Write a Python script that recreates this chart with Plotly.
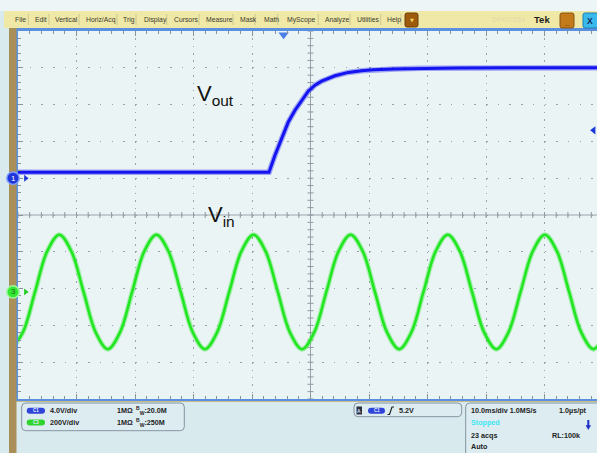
import plotly.graph_objects as go

# ---------------- data ----------------
# Channel 1 (Vout): time in ms (0 = screen centre), volts
vout_t = [-50.0, -7.09, -6.07, -4.92, -3.79, -2.65, -1.50, -0.38, 0.77, 1.91,
          4.19, 6.46, 8.75, 10.74, 14.4, 18.8, 25.0, 35.0, 49.0]
vout_v = [0.66, 0.66, 2.49, 4.31, 6.11, 7.39, 8.48, 9.46, 10.11, 10.55,
          11.13, 11.50, 11.67, 11.78, 11.88, 11.95, 11.98, 12.0, 12.0]

# Channel 3 (Vin): time in ms, volts (60 Hz mains, read at 1/8-period steps)
vin_t = [-51.24, -49.17, -47.09, -45.02, -42.94, -40.87, -38.79, -36.72,
         -34.64, -32.57, -30.49, -28.42, -26.34, -24.27, -22.19, -20.12,
         -18.04, -15.97, -13.89, -11.82, -9.74, -7.67, -5.59, -3.52,
         -1.44, 0.64, 2.71, 4.79, 6.86, 8.94, 11.01, 13.09,
         15.16, 17.24, 19.31, 21.39, 23.46, 25.54, 27.61, 29.69,
         31.76, 33.84, 35.91, 37.99, 40.06, 42.14, 44.21, 46.29,
         48.36, 50.44]
vin_v = [-311, -220, 0, 220, 311, 220, 0, -220,
         -311, -220, 0, 220, 311, 220, 0, -220,
         -311, -220, 0, 220, 311, 220, 0, -220,
         -311, -220, 0, 220, 311, 220, 0, -220,
         -311, -220, 0, 220, 311, 220, 0, -220,
         -311, -220, 0, 220, 311, 220, 0, -220,
         -311, -220]

menu_labels = ["File", "Edit", "Vertical", "Horiz/Acq", "Trig", "Display", "Cursors",
               "Measure", "Mask", "Math", "MyScope", "Analyze", "Utilities", "Help"]

ch_names = ["C1", "C3"]
ch_scales = ["4.0V/div", "200V/div"]
ch_imped = ["1MΩ", "1MΩ"]
ch_bw = ["20.0M", "250M"]

trig_level_v = 5.2
trig_label = "5.2V"
trig_pos_ms = -4.6
horiz_info = ["10.0ms/div 1.0MS/s", "1.0µs/pt"]
acq_state = "Stopped"
acq_count = "23 acqs"
rec_len = "RL:100k"
trig_mode = "Auto"

CH1_VDIV = 4.0
CH3_VDIV = 200.0
CH1_DIVS_FROM_TOP = 4.0     # ground position of channel 1
CH3_DIVS_FROM_TOP = 7.09    # ground position of channel 3

# ---------------- geometry ----------------
W, H = 597, 453
L, T, B, R = 18, 31, 54, 0
PW, PH = W - L - R, H - T - B


def px(x):
    return (x - L) / PW


def py(y):
    return (H - B - y) / PH


BLUE = "#1414f0"
GREEN = "#22e622"

fig = go.Figure()

# faint halo (trace noise) + core line for each channel
fig.add_trace(go.Scatter(x=vin_t, y=vin_v, yaxis="y2", mode="lines", opacity=0.35,
                         line=dict(color=GREEN, width=5, shape="spline"),
                         hoverinfo="skip", showlegend=False))
fig.add_trace(go.Scatter(x=vin_t, y=vin_v, yaxis="y2", mode="lines",
                         line=dict(color=GREEN, width=2.6, shape="spline"),
                         hoverinfo="skip", showlegend=False))
fig.add_trace(go.Scatter(x=vout_t, y=vout_v, mode="lines", opacity=0.35,
                         line=dict(color=BLUE, width=5.5),
                         hoverinfo="skip", showlegend=False))
fig.add_trace(go.Scatter(x=vout_t, y=vout_v, mode="lines",
                         line=dict(color=BLUE, width=3),
                         hoverinfo="skip", showlegend=False))

# small arrows next to the channel ground markers
fig.add_trace(go.Scatter(x=[-48.7], y=[0], mode="markers",
                         marker=dict(size=6, symbol="triangle-right", color="#2036d8"),
                         cliponaxis=False, hoverinfo="skip", showlegend=False))
fig.add_trace(go.Scatter(x=[-48.7], y=[0], yaxis="y2", mode="markers",
                         marker=dict(size=6, symbol="triangle-right", color="#22cc22"),
                         cliponaxis=False, hoverinfo="skip", showlegend=False))
# trigger position & level markers
fig.add_trace(go.Scatter(x=[trig_pos_ms], y=[15.6], mode="markers",
                         marker=dict(size=9, symbol="triangle-down", color="#4a7fe6"),
                         cliponaxis=False, hoverinfo="skip", showlegend=False))
fig.add_trace(go.Scatter(x=[48.4], y=[trig_level_v], mode="markers",
                         marker=dict(size=7, symbol="triangle-left", color="#1a3ad8"),
                         cliponaxis=False, hoverinfo="skip", showlegend=False))

shapes = []
annotations = []


def rrect(x0, y0, x1, y1, r, fill, line="rgba(0,0,0,0)", lw=0):
    X0, X1, Y0, Y1 = px(x0), px(x1), py(y1), py(y0)
    rx, ry = r / PW, r / PH
    path = (f"M{X0+rx},{Y0} L{X1-rx},{Y0} Q{X1},{Y0} {X1},{Y0+ry} L{X1},{Y1-ry} "
            f"Q{X1},{Y1} {X1-rx},{Y1} L{X0+rx},{Y1} Q{X0},{Y1} {X0},{Y1-ry} "
            f"L{X0},{Y0+ry} Q{X0},{Y0} {X0+rx},{Y0} Z")
    shapes.append(dict(type="path", path=path, xref="paper", yref="paper",
                       fillcolor=fill, line=dict(color=line, width=lw), layer="above"))


def rect(x0, y0, x1, y1, fill, line="rgba(0,0,0,0)", lw=0):
    shapes.append(dict(type="rect", xref="paper", yref="paper",
                       x0=px(x0), x1=px(x1), y0=py(y1), y1=py(y0),
                       fillcolor=fill, line=dict(color=line, width=lw), layer="above"))


def circle(cx, cy, r, fill, line, lw):
    shapes.append(dict(type="circle", xref="paper", yref="paper",
                       x0=px(cx - r), x1=px(cx + r), y0=py(cy + r), y1=py(cy - r),
                       fillcolor=fill, line=dict(color=line, width=lw), layer="above"))


def text(x, y, s, size=7, color="#222", bold=False, anchor="left", family="Liberation Sans"):
    annotations.append(dict(x=px(x), y=py(y), xref="paper", yref="paper", text=(f"<b>{s}</b>" if bold else s),
                            showarrow=False, xanchor=anchor, yanchor="middle",
                            font=dict(size=size, color=color, family=family)))


# top strip and menu bar
rect(0, 0, W, 11, "#eef5f6")
rect(4, 11, W, 28, "#efe8a7")
menu_x = [13.3, 33, 53, 84, 121, 141.7, 172, 204, 238, 261.7, 285, 322.7, 355, 385]
sep_x = [28.3, 49, 79, 117, 136, 166.7, 199, 233, 255, 277.7, 318.3, 350, 380.7, 401]
for lab, x in zip(menu_labels, menu_x):
    text(x, 19.5, lab, size=6.8, color="#3a3a30")
for x in sep_x:
    shapes.append(dict(type="line", xref="paper", yref="paper", x0=px(x), x1=px(x),
                       y0=py(25), y1=py(14), line=dict(color="#cfc68e", width=1), layer="above"))
rrect(405, 13, 418, 27, 2, "#9c5a0c", "#6e3e06", 1)
text(411.5, 20, "▼", size=5, color="#f4d060", anchor="center", family="DejaVu Sans")
text(490, 20, "DPO7254", size=7.5, color="#e6dea6", bold=True)
text(532, 20, "Tek", size=9.5, color="#1c1c1c", bold=True)
rrect(560, 13, 574, 28, 2, "#c27a1a", "#8a5210", 1)
text(567, 22, "_", size=8, color="#3a2000", anchor="center", bold=True)
rrect(583, 13, 598, 28, 2, "#3ab9ec", "#1d7fb0", 1)
text(590, 20.5, "X", size=8.5, color="#0e2a5a", anchor="center", bold=True)

# left brown strip
rect(9, 28, 16.5, H, "#a89058")
# thin tan line under the graticule
shapes.append(dict(type="line", xref="paper", yref="paper", x0=px(16.5), x1=1,
                   y0=py(401.5), y1=py(401.5), line=dict(color="#c8bc8c", width=1), layer="above"))

# channel ground markers (left of the graticule)
ch1_y = T + CH1_DIVS_FROM_TOP * PH / 10
ch3_y = T + CH3_DIVS_FROM_TOP * PH / 10
circle(13, ch1_y, 6.2, "#2036d8", "#7d9cff", 1.5)
text(13, ch1_y, "1", size=8, color="white", anchor="center")
circle(13, ch3_y, 6.2, "#34e834", "#a0f7a0", 1.5)
text(13, ch3_y, "3", size=8, color="#176b17", anchor="center")

# graticule centre cross with ticks
shapes.append(dict(type="line", xref="x", yref="y", x0=-50, x1=50, y0=-4, y1=-4,
                   line=dict(color="#9ba3ab", width=1), layer="below"))
shapes.append(dict(type="line", xref="x", yref="y", x0=0, x1=0, y0=-24, y1=16,
                   line=dict(color="#9ba3ab", width=1), layer="below"))
for i in range(-25, 26):
    shapes.append(dict(type="line", xref="x", yref="y", x0=i * 2, x1=i * 2,
                       ysizemode="pixel", yanchor=-4, y0=-3, y1=3,
                       line=dict(color="#8f979f", width=1), layer="below"))
for i in range(-30, 21):
    shapes.append(dict(type="line", xref="x", yref="y", y0=i * 0.8, y1=i * 0.8,
                       xsizemode="pixel", xanchor=0, x0=-3, x1=3,
                       line=dict(color="#8f979f", width=1), layer="below"))

# bottom status panel
rrect(21.7, 403, 184.3, 430.7, 4, "rgba(255,255,255,0.12)", "#8494a0", 1)
pill_cols = ["#2f44d8", "#2fd42f"]
for i, (nm, sc, im, bw) in enumerate(zip(ch_names, ch_scales, ch_imped, ch_bw)):
    yy = 410.7 + i * 11.8
    rrect(26.7, yy - 3, 45, yy + 3, 3, pill_cols[i])
    text(35.8, yy, nm, size=4.5, color="#e8f0ff", anchor="center", bold=True)
    text(48.3, yy, sc, size=7.2, bold=True)
    text(115, yy, im, size=7.2, bold=True)
    text(134.3, yy, "<sup>B</sup><sub>W</sub>:" + bw, size=7.2, bold=True)

rrect(354, 403, 461.7, 416.7, 4, "rgba(255,255,255,0.12)", "#8494a0", 1)
rect(356.5, 406.5, 362, 414.5, "#2a3040")
text(359.2, 410.5, "A", size=5, color="#d8e0ff", anchor="center", bold=True)
rrect(368, 407.7, 385, 413.7, 3, "#2f44d8")
text(376.5, 410.7, "C1", size=4.5, color="#e8f0ff", anchor="center", bold=True)
shapes.append(dict(type="path", xref="paper", yref="paper", layer="above",
                   path=f"M{px(387.5)},{py(414.5)} L{px(389.5)},{py(414.5)} L{px(392)},{py(407)} L{px(394)},{py(407)}",
                   line=dict(color="#222", width=1.2)))
text(396.7, 410.7, trig_label, size=7.2, bold=True)

rrect(465.7, 403, 605, 470, 4, "rgba(255,255,255,0.12)", "#8494a0", 1)
text(469.3, 410.7, horiz_info[0], size=7.2, bold=True)
text(556.7, 410.7, horiz_info[1], size=7.2, bold=True)
text(469.3, 422.7, acq_state, size=7.2, color="#3ee6f2", bold=True)
shapes.append(dict(type="line", xref="paper", yref="paper", x0=px(588.3), x1=px(588.3),
                   y0=py(426), y1=py(420), line=dict(color="#1c30c8", width=2), layer="above"))
shapes.append(dict(type="path", xref="paper", yref="paper", layer="above",
                   path=f"M{px(586)},{py(425.5)} L{px(590.6)},{py(425.5)} L{px(588.3)},{py(429.5)} Z",
                   fillcolor="#1c30c8", line=dict(color="#1c30c8", width=0.5)))
text(469.3, 435, acq_count, size=7.2, bold=True)
text(550, 435, rec_len, size=7.2, bold=True)
text(469.3, 446.5, trig_mode, size=7.2, bold=True)

# waveform labels
annotations.append(dict(x=px(195), y=py(95), xref="paper", yref="paper", text="V<sub>out</sub>",
                        showarrow=False, xanchor="left", yanchor="middle",
                        font=dict(size=22, color="#111", family="Liberation Sans")))
annotations.append(dict(x=px(206), y=py(216), xref="paper", yref="paper", text="V<sub>in</sub>",
                        showarrow=False, xanchor="left", yanchor="middle",
                        font=dict(size=22, color="#111", family="Liberation Sans")))

fig.update_layout(
    width=W, height=H,
    margin=dict(l=L, r=R, t=T, b=B, pad=0),
    paper_bgcolor="#d9eaef",
    plot_bgcolor="#eaf4f5",
    showlegend=False,
    xaxis=dict(range=[-50, -50 + PW / 5.85], showgrid=True, dtick=10, tick0=0,
               gridcolor="#98a2aa", gridwidth=1.3, griddash="1.5px,5.86px",
               zeroline=False, showticklabels=False,
               showline=True, linecolor="#5b8fe0", linewidth=2.5, mirror="ticks",
               ticks="inside", ticklen=5, tickcolor="#8a929a",
               minor=dict(dtick=2, ticks="inside", ticklen=3, tickcolor="#8a929a", showgrid=False),
               fixedrange=True),
    yaxis=dict(range=[-(10 - CH1_DIVS_FROM_TOP) * CH1_VDIV, CH1_DIVS_FROM_TOP * CH1_VDIV],
               showgrid=True, dtick=CH1_VDIV, tick0=0,
               gridcolor="#98a2aa", gridwidth=1.3, griddash="1.5px,10.2px",
               zeroline=False, showticklabels=False,
               showline=True, linecolor="#5b8fe0", linewidth=2.5, mirror=False,
               ticks="inside", ticklen=5, tickcolor="#8a929a",
               minor=dict(dtick=CH1_VDIV / 5, ticks="inside", ticklen=3, tickcolor="#8a929a", showgrid=False),
               fixedrange=True),
    yaxis2=dict(range=[-(10 - CH3_DIVS_FROM_TOP) * CH3_VDIV, CH3_DIVS_FROM_TOP * CH3_VDIV],
                overlaying="y", visible=False, fixedrange=True),
    shapes=shapes,
    annotations=annotations,
)

fig.write_html("out.html", config={"displayModeBar": False},
               post_script="document.body.style.margin='0';document.body.style.padding='0';document.body.style.overflow='hidden';")
